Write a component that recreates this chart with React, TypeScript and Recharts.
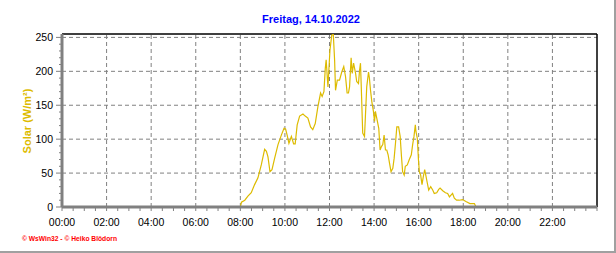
import { Line, LineChart, ReferenceLine, XAxis, YAxis } from 'recharts';

// Solar radiation, Freitag 14.10.2022 (time in decimal hours, value in W/m²)
const hours = [
  0, 8.0, 8.05, 8.2, 8.34, 8.49, 8.64, 8.79, 8.94, 9.09, 9.17, 9.24, 9.33, 9.42, 9.54, 9.69,
  9.84, 9.96, 10.03, 10.1, 10.18, 10.29, 10.39, 10.46, 10.55, 10.66, 10.81, 10.91, 11.03,
  11.15, 11.25, 11.36, 11.48, 11.6, 11.67, 11.75, 11.81, 11.85, 11.93, 12.02, 12.1, 12.17,
  12.23, 12.27, 12.35, 12.45, 12.55, 12.64, 12.72, 12.79, 12.85, 12.9, 12.97, 13.02, 13.08,
  13.17, 13.22, 13.3, 13.35, 13.39, 13.43, 13.49, 13.57, 13.61, 13.67, 13.75, 13.79, 13.84,
  13.9, 13.97, 14.02, 14.06, 14.12, 14.21, 14.27, 14.33, 14.39, 14.45, 14.51, 14.57, 14.63,
  14.69, 14.76, 14.84, 14.9, 14.96, 15.02, 15.1, 15.17, 15.23, 15.28, 15.35, 15.4, 15.49,
  15.58, 15.67, 15.73, 15.79, 15.85, 15.88, 15.94, 15.99, 16.03, 16.09, 16.15, 16.21, 16.27,
  16.33, 16.39, 16.45, 16.54, 16.63, 16.7, 16.81, 16.9, 16.96, 17.08, 17.2, 17.3, 17.38,
  17.46, 17.52, 17.6, 17.7, 17.82, 17.97, 18.12, 18.3, 18.5, 18.57, 24,
];
const solar = [
  0, 0, 7, 10, 16, 21, 33, 43, 62, 85, 82, 74, 52, 55, 72, 92,
  106, 116, 115, 106, 94, 104, 93, 93, 121, 134, 137, 134, 131,
  118, 114, 123, 148, 168, 163, 170, 204, 217, 177, 231, 253, 255,
  216, 172, 187, 187, 199, 207, 192, 168, 168, 177, 220, 197, 212,
  197, 185, 182, 202, 212, 172, 109, 104, 133, 177, 199, 190, 172,
  155, 141, 126, 141, 131, 116, 84, 89, 92, 106, 84, 84, 77,
  65, 52, 57, 72, 94, 118, 118, 104, 74, 52, 47, 60, 62,
  70, 77, 92, 104, 121, 111, 101, 70, 52, 47, 33, 45, 55,
  45, 35, 25, 30, 25, 20, 21, 26, 28, 24, 21, 20, 15,
  18, 20, 13, 10, 10, 11, 8, 5, 5, 0, 0,
];

const hourLabels = [
  '00:00', '02:00', '04:00', '06:00', '08:00', '10:00',
  '12:00', '14:00', '16:00', '18:00', '20:00', '22:00',
];
const gridHours = [2, 4, 6, 8, 10, 12, 14, 16, 18, 20, 22];
const gridValues = [50, 100, 150, 200, 250];

// half-hour minor ticks on x, 10 W/m² minor ticks on y
const xTicks = Array.from({ length: 49 }, (_, i) => i / 2);
const yTicks = Array.from({ length: 26 }, (_, i) => i * 10);

const data = hours.map((h, i) => ({ h, solar: solar[i] }));

const FONT = 'Arial, "Liberation Sans", sans-serif';
const GOLD = '#DDBB00';
const GRID = '#808080';

function HourTick({ x, y, payload }: any) {
  const v = payload.value;
  const label = v % 2 === 0 ? hourLabels[v / 2] : undefined;
  return (
    <g>
      <line x1={x} x2={x} y1={y} y2={y + 4} stroke={GRID} />
      {label && (
        <text x={x} y={y + 18.5} textAnchor="middle" fontSize={10.5} fontFamily={FONT} fill="#000">
          {label}
        </text>
      )}
    </g>
  );
}

function SolarTick({ x, y, payload }: any) {
  const v = payload.value;
  const major = v % 50 === 0;
  return (
    <g>
      <line x1={x - (major ? 6 : 3)} x2={x} y1={y} y2={y} stroke={GRID} />
      {major && (
        <text x={x - 9} y={y + 4} textAnchor="end" fontSize={10.5} fontFamily={FONT} fill="#000">
          {v}
        </text>
      )}
    </g>
  );
}

export default function App() {
  return (
    <div style={{ position: 'absolute', left: 0, top: 0, width: 616, height: 253, background: '#fff' }}>
      <LineChart width={616} height={253} data={data} margin={{ top: 34, right: 19, bottom: 0, left: 0 }}>
        {gridHours.map((h) => (
          <ReferenceLine key={'x' + h} x={h} stroke={GRID} strokeDasharray="4 3" />
        ))}
        {gridValues.map((v) => (
          <ReferenceLine key={'y' + v} y={v} stroke={GRID} strokeDasharray="4 3" />
        ))}
        <ReferenceLine y={255} stroke="#000" strokeWidth={1.5} />
        <ReferenceLine x={24} stroke="#000" strokeWidth={1.5} />
        <XAxis
          dataKey="h"
          type="number"
          domain={[0, 24]}
          ticks={xTicks}
          interval={0}
          height={46}
          tickSize={0}
          tickMargin={0}
          tickLine={false}
          tick={<HourTick />}
          axisLine={{ stroke: GRID, strokeWidth: 3 }}
          allowDataOverflow
        />
        <YAxis
          type="number"
          domain={[0, 255]}
          ticks={yTicks}
          interval={0}
          width={62}
          tickSize={0}
          tickMargin={0}
          tickLine={false}
          tick={<SolarTick />}
          axisLine={{ stroke: GRID, strokeWidth: 3 }}
          allowDataOverflow
        />
        <Line
          type="linear"
          dataKey="solar"
          stroke={GOLD}
          strokeWidth={1.2}
          dot={false}
          activeDot={false}
          isAnimationActive={false}
        />
      </LineChart>
      <svg
        width={616}
        height={253}
        style={{ position: 'absolute', left: 0, top: 0, pointerEvents: 'none' }}
      >
        <text x={311} y={22.7} textAnchor="middle" fontSize={11} fontWeight="bold" fontFamily={FONT} fill="#0000FF">
          Freitag, 14.10.2022
        </text>
        <text
          x={27}
          y={121}
          dy={4}
          transform="rotate(-90, 27, 121)"
          textAnchor="middle"
          fontSize={11}
          fontWeight="bold"
          fontFamily={FONT}
          fill={GOLD}
        >
          Solar (W/m²)
        </text>
        <text
          x={22}
          y={241}
          fontSize={7}
          fontWeight="bold"
          fontFamily={FONT}
          fill="#FF0000"
          textLength={95}
          lengthAdjust="spacingAndGlyphs"
        >
          © WsWin32 - © Heiko Blödorn
        </text>
        <rect x={614} y={0} width={2} height={253} fill="#A0A0A0" />
        <rect x={0} y={251} width={616} height={2} fill="#A0A0A0" />
      </svg>
    </div>
  );
}
